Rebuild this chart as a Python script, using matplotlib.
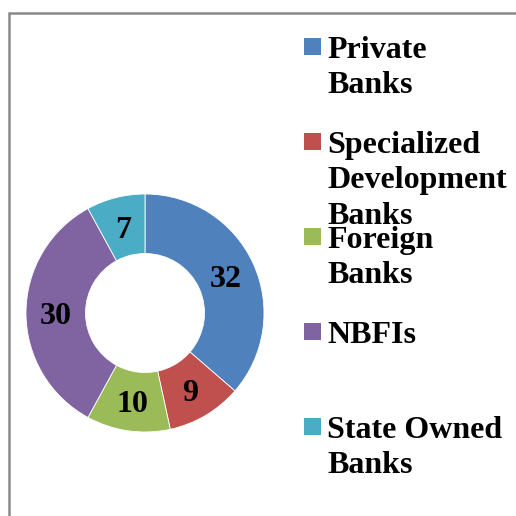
import matplotlib
matplotlib.use("Agg")
import matplotlib.pyplot as plt
from matplotlib.patches import Rectangle

labels = ["Private\nBanks", "Specialized\nDevelopment\nBanks", "Foreign\nBanks", "NBFIs", "State Owned\nBanks"]
values = [32, 9, 10, 30, 7]
colors = ["#4F81BD", "#C0504D", "#9BBB59", "#8064A2", "#4BACC6"]

plt.rcParams['font.family'] = ['Liberation Serif', 'DejaVu Serif']

fig = plt.figure(figsize=(5.16, 5.16), dpi=100)
W = H = 516.0

# chart border (clipped at right and bottom like the source)
fig.patches.append(Rectangle((9 / W, -0.1), 1.2, 1 - 13 / H + 0.1, transform=fig.transFigure,
                             fill=False, edgecolor="#8a8a8a", linewidth=1.8))

# donut: centre (145, 313) px, outer radius 119 px
cx, cy, r = 145, 313, 119
ax = fig.add_axes([(cx - r) / W, 1 - (cy + r) / H, 2 * r / W, 2 * r / H])
wedges, texts = ax.pie(values, colors=colors, startangle=90, counterclock=False,
                       radius=1.0, labels=[str(v) for v in values], labeldistance=0.75,
                       wedgeprops=dict(width=0.5, edgecolor="white", linewidth=0.6),
                       textprops=dict(fontsize=23, fontweight="bold", color="black",
                                      ha="center", va="center_baseline"))
ax.set_xlim(-1, 1)
ax.set_ylim(-1, 1)
ax.set_aspect("equal")
ax.axis("off")

# legend drawn by hand, entries 95 px apart
for i, (lab, col) in enumerate(zip(labels, colors)):
    ytop = 38 + 95 * i
    fig.patches.append(Rectangle((304 / W, 1 - (ytop + 17) / H), 17 / W, 17 / H,
                                 transform=fig.transFigure, facecolor=col, edgecolor="none"))
    fig.text(327 / W, 1 - (ytop - 2) / H, lab, fontsize=23, fontweight="bold",
             ha="left", va="top", linespacing=1.29)

fig.savefig("out.png", dpi=100)
